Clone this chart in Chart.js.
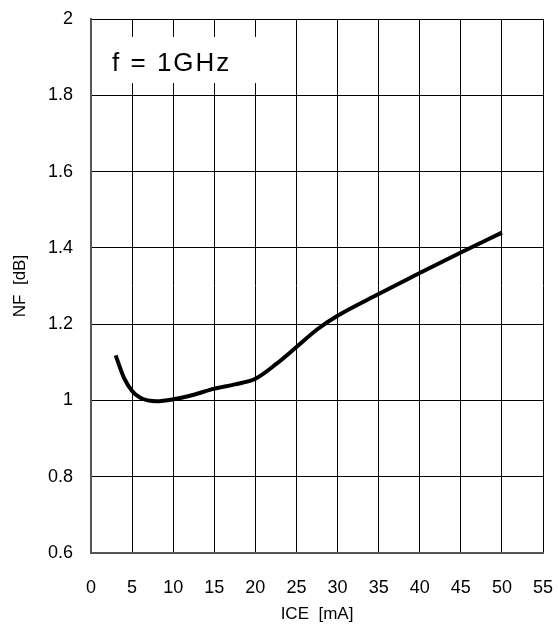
<!DOCTYPE html>
<html>
<head>
<meta charset="utf-8">
<script src="https://cdn.jsdelivr.net/npm/chart.js@4/dist/chart.umd.min.js"></script>
<style>
  html, body { margin: 0; padding: 0; background: #fff; }
  #wrap { width: 558px; height: 630px; }
</style>
</head>
<body>
<div id="wrap"><canvas id="nf-chart" width="558" height="630"></canvas></div>
<script>
// ICE [mA] vs NF [dB]
var ice = [3, 4, 5, 6, 8, 10, 12.5, 15, 17.5, 20, 22.5, 25, 27.5, 30, 35, 40, 45, 50];
var nf  = [1.118, 1.06, 1.025, 1.007, 0.998, 1.003, 1.015, 1.031, 1.042, 1.057, 1.095, 1.14, 1.186, 1.222, 1.279, 1.334, 1.388, 1.44];
var xTicks = [0, 5, 10, 15, 20, 25, 30, 35, 40, 45, 50, 55];
var yTicks = [0.6, 0.8, 1, 1.2, 1.4, 1.6, 1.8, 2];
var noteText = 'f = 1GHz';

var pts = [];
for (var i in ice) {
  pts.push({x: ice[i], y: nf[i]});
}

var font = 'Liberation Sans, Arial, sans-serif';

// white box with the frequency note, upper left of the plot
var notePlugin = {
  id: 'note',
  beforeDatasetsDraw: function(chart) {
    var ctx = chart.ctx;
    var xs = chart.scales.x, ys = chart.scales.y;
    var left = xs.getPixelForValue(0) + 1;
    var right = xs.getPixelForValue(20.6);
    var top = ys.getPixelForValue(1.953);
    var bottom = ys.getPixelForValue(1.832);
    ctx.save();
    ctx.fillStyle = '#fff';
    ctx.fillRect(left, top, right - left, bottom - top);
    ctx.fillStyle = '#000';
    ctx.font = '26px ' + font;
    ctx.letterSpacing = '2px';
    ctx.textBaseline = 'alphabetic';
    ctx.fillText(noteText, xs.getPixelForValue(2.56), ys.getPixelForValue(1.864));
    ctx.restore();
  }
};

new Chart(document.getElementById('nf-chart'), {
  type: 'line',
  data: {
    datasets: [{
      data: pts,
      borderColor: '#000',
      borderWidth: 4,
      pointRadius: 0,
      fill: false,
      cubicInterpolationMode: 'monotone'
    }]
  },
  options: {
    responsive: false,
    animation: false,
    layout: { padding: { top: 19, right: 15, left: 0, bottom: 0 } },
    plugins: { legend: { display: false }, tooltip: { enabled: false } },
    scales: {
      x: {
        type: 'linear',
        min: 0, max: 55,
        afterBuildTicks: function(s) { s.ticks = xTicks.map(function(v) { return {value: v}; }); },
        afterFit: function(s) { s.height = 77; s.paddingLeft = 0; s.paddingRight = 0; },
        grid: { color: '#000', lineWidth: 1, drawTicks: false },
        border: { color: '#555', width: 2 },
        ticks: { color: '#000', font: { size: 18, family: font }, padding: 24, maxRotation: 0 },
        title: { display: true, text: 'ICE  [mA]', color: '#000', font: { size: 17, family: font }, padding: { top: 0, bottom: 5 } }
      },
      y: {
        type: 'linear',
        min: 0.6, max: 2,
        afterBuildTicks: function(s) { s.ticks = yTicks.map(function(v) { return {value: v}; }); },
        afterFit: function(s) { s.width = 91; s.paddingTop = 0; s.paddingBottom = 0; },
        grid: { color: '#000', lineWidth: 1, drawTicks: false },
        border: { color: '#555', width: 2 },
        ticks: {
          color: '#000', font: { size: 18, family: font }, padding: 18,
          callback: function(v) { return String(Math.round(v * 10) / 10); }
        },
        title: { display: true, text: 'NF  [dB]', color: '#000', font: { size: 17, family: font }, padding: { top: 10, bottom: 0 } }
      }
    }
  },
  plugins: [notePlugin]
});
</script>
</body>
</html>
